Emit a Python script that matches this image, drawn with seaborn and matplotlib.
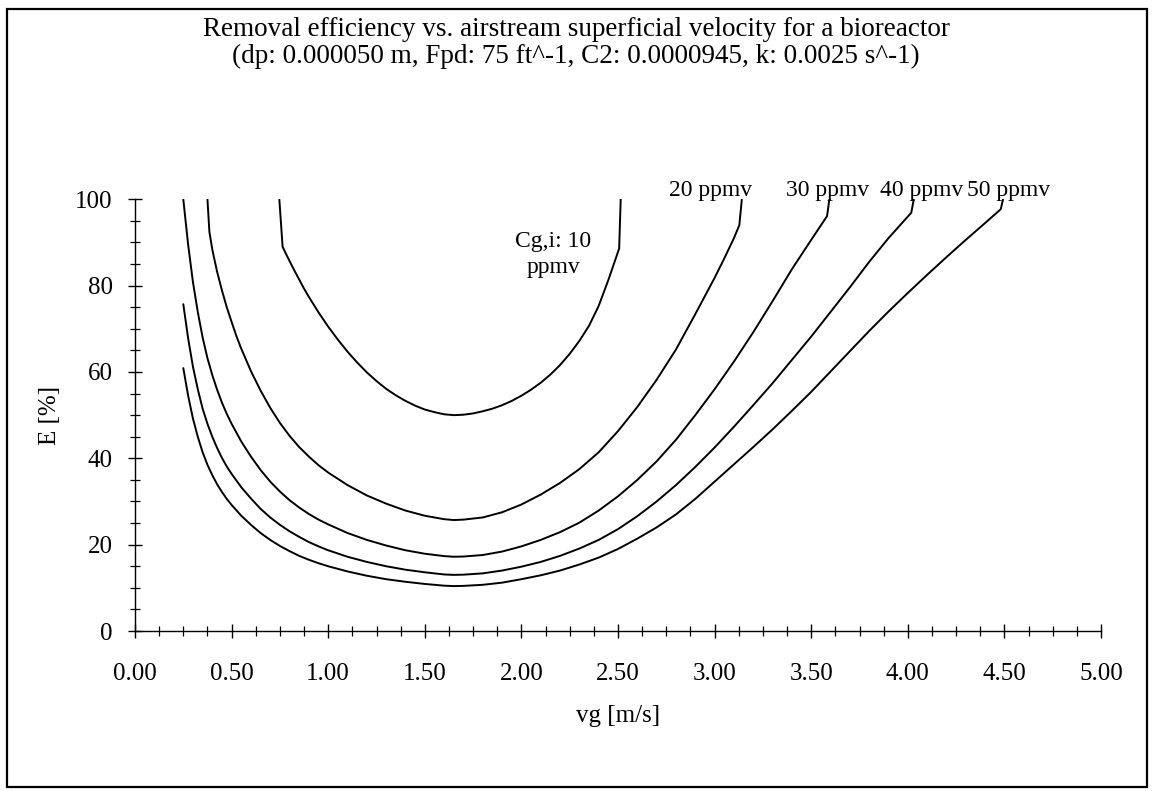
import matplotlib
matplotlib.use("Agg")
import matplotlib.pyplot as plt
import numpy as np
import pandas as pd
import seaborn as sns
from matplotlib.ticker import MultipleLocator, FormatStrFormatter
from matplotlib.patches import Rectangle

# ---------------- data ----------------
labels = ["Cg,i: 10\nppmv", "20 ppmv", "30 ppmv", "40 ppmv", "50 ppmv"]

v_10 = [0.747, 0.764, 0.78, 0.80, 0.825, 0.85, 0.875, 0.90, 0.95, 1.00, 1.05, 1.10, 1.15,
        1.20, 1.25, 1.30, 1.35, 1.40, 1.45, 1.50, 1.55, 1.60, 1.65, 1.70, 1.75, 1.80,
        1.85, 1.90, 1.95, 2.00, 2.05, 2.10, 2.15, 2.20, 2.25, 2.30, 2.35, 2.40, 2.45,
        2.506, 2.514]
E_10 = [100, 89.0, 87.5, 85.7, 83.5, 81.4, 79.3, 77.4, 73.8, 70.5, 67.5, 64.7, 62.2,
        59.9, 57.9, 56.1, 54.6, 53.3, 52.2, 51.3, 50.7, 50.2, 50.0, 50.1, 50.4, 50.9,
        51.5, 52.3, 53.3, 54.5, 55.9, 57.5, 59.4, 61.6, 64.2, 67.2, 70.7, 75.3, 81.3,
        88.6, 100]

v_20 = [0.375, 0.385, 0.40, 0.425, 0.45, 0.475, 0.50, 0.525, 0.55, 0.60, 0.65, 0.70,
        0.75, 0.80, 0.85, 0.90, 0.95, 1.00, 1.10, 1.20, 1.30, 1.40, 1.50, 1.60, 1.65,
        1.70, 1.80, 1.90, 2.00, 2.10, 2.20, 2.30, 2.40, 2.50, 2.60, 2.70, 2.80, 2.90,
        3.00, 3.05, 3.10, 3.128, 3.141]
E_20 = [100, 92.5, 88.4, 83.2, 78.9, 75.0, 71.6, 68.3, 65.4, 60.2, 55.7, 51.7,
        48.2, 45.2, 42.6, 40.4, 38.4, 36.7, 33.8, 31.4, 29.5, 27.9, 26.7, 25.9, 25.7,
        25.8, 26.3, 27.5, 29.3, 31.6, 34.3, 37.5, 41.4, 46.3, 51.9, 58.2, 65.2, 73.4,
        81.8, 86.3, 91.0, 94.0, 100]

v_30 = [0.25, 0.275, 0.30, 0.325, 0.35, 0.375, 0.40, 0.425, 0.45, 0.475, 0.50, 0.55,
        0.60, 0.65, 0.70, 0.75, 0.80, 0.85, 0.90, 0.95, 1.00, 1.10, 1.20, 1.30, 1.40,
        1.50, 1.60, 1.65, 1.70, 1.80, 1.90, 2.00, 2.10, 2.20, 2.30, 2.40, 2.50, 2.60,
        2.70, 2.80, 2.90, 3.00, 3.10, 3.20, 3.30, 3.40, 3.50, 3.582, 3.594]
E_30 = [100, 89.5, 80.8, 73.9, 68.0, 63.2, 59.3, 55.9, 52.9, 50.3, 48.0, 43.9,
        40.4, 37.3, 34.6, 32.3, 30.3, 28.6, 27.1, 25.8, 24.7, 22.7, 21.1, 19.8, 18.7,
        17.9, 17.35, 17.2, 17.25, 17.6, 18.4, 19.6, 21.1, 22.9, 25.1, 27.9, 31.2, 35.0,
        39.3, 44.3, 50.0, 56.0, 62.4, 69.2, 76.4, 83.8, 90.6, 96.1, 100]

v_40 = [0.25, 0.275, 0.30, 0.325, 0.35, 0.375, 0.40, 0.425, 0.45, 0.475, 0.50, 0.55,
        0.60, 0.65, 0.70, 0.75, 0.80, 0.85, 0.90, 0.95, 1.00, 1.10, 1.20, 1.30, 1.40,
        1.50, 1.60, 1.65, 1.70, 1.80, 1.90, 2.00, 2.10, 2.20, 2.30, 2.40, 2.50, 2.60,
        2.70, 2.80, 2.90, 3.00, 3.10, 3.20, 3.30, 3.40, 3.50, 3.60, 3.70, 3.80, 3.90,
        4.00, 4.018, 4.031]
E_40 = [75.7, 67.8, 61.2, 56.0, 51.5, 48.0, 45.0, 42.4, 40.1, 38.1, 36.4, 33.3,
        30.7, 28.3, 26.3, 24.6, 23.1, 21.8, 20.6, 19.6, 18.7, 17.2, 16.0, 15.0, 14.2,
        13.6, 13.1, 13.0, 13.05, 13.35, 14.0, 14.9, 16.0, 17.4, 19.1, 21.1, 23.6, 26.6,
        30.0, 33.8, 38.0, 42.5, 47.3, 52.3, 57.4, 62.8, 68.2, 73.9, 79.6, 85.5, 91.0,
        96.0, 96.9, 100]

v_50 = [0.25, 0.275, 0.30, 0.325, 0.35, 0.375, 0.40, 0.425, 0.45, 0.475, 0.50, 0.55,
        0.60, 0.65, 0.70, 0.75, 0.80, 0.85, 0.90, 0.95, 1.00, 1.10, 1.20, 1.30, 1.40,
        1.50, 1.60, 1.65, 1.70, 1.80, 1.90, 2.00, 2.10, 2.20, 2.30, 2.40, 2.50, 2.60,
        2.70, 2.80, 2.90, 3.00, 3.10, 3.20, 3.30, 3.40, 3.50, 3.60, 3.70, 3.80, 3.90,
        4.00, 4.10, 4.20, 4.30, 4.40, 4.481, 4.493]
E_50 = [60.9, 54.5, 49.2, 45.0, 41.4, 38.5, 36.1, 34.0, 32.2, 30.6, 29.2, 26.7,
        24.6, 22.7, 21.1, 19.7, 18.5, 17.4, 16.5, 15.7, 15.0, 13.8, 12.8, 12.0, 11.4,
        10.9, 10.5, 10.4, 10.45, 10.7, 11.2, 12.0, 12.9, 14.0, 15.4, 17.0, 19.0, 21.4,
        24.0, 27.0, 30.6, 34.6, 38.6, 42.6, 46.7, 51.0, 55.4, 60.1, 64.8, 69.5, 74.0,
        78.3, 82.5, 86.6, 90.6, 94.5, 97.7, 100]

# label anchor positions (data coords)
label_x = [2.164, 2.98, 3.587, 4.07, 4.52]
label_y = [87.3, 100.8, 100.8, 100.8, 100.8]

x_ticklabels = ["0.00", "0.50", "1.00", "1.50", "2.00", "2.50", "3.00", "3.50", "4.00", "4.50", "5.00"]
title = ("Removal efficiency vs. airstream superficial velocity for a bioreactor\n"
         "(dp: 0.000050 m, Fpd: 75 ft^-1, C2: 0.0000945, k: 0.0025 s^-1)")

# ---------------- build long table ----------------
frames = []
for name, vv, ee in zip(labels, [v_10, v_20, v_30, v_40, v_50],
                        [E_10, E_20, E_30, E_40, E_50]):
    frames.append(pd.DataFrame({"vg": vv, "E": ee, "series": name}))
df = pd.concat(frames, ignore_index=True)

# ---------------- style ----------------
sns.set_theme(style="white")
plt.rcParams["font.family"] = ["Liberation Serif", "DejaVu Serif"]
plt.rcParams["text.color"] = "black"
plt.rcParams["axes.labelcolor"] = "black"
plt.rcParams["xtick.color"] = "black"
plt.rcParams["ytick.color"] = "black"

W, H, DPI = 1152, 791, 100
fig = plt.figure(figsize=(W / DPI, H / DPI), dpi=DPI, facecolor="white")
ax = fig.add_axes([135 / W, 1 - 631 / H, (1101 - 135) / W, (631 - 199.3) / H])

sns.lineplot(data=df, x="vg", y="E", units="series", estimator=None, sort=False,
             color="black", linewidth=1.4, ax=ax, legend=False)

ax.set_xlim(0, 5)
ax.set_ylim(0, 100)
ax.set_facecolor("white")
for s in ["top", "right"]:
    ax.spines[s].set_visible(False)
for s in ["left", "bottom"]:
    ax.spines[s].set_color("black")
    ax.spines[s].set_linewidth(1.0)

ax.xaxis.set_minor_locator(MultipleLocator(0.125))
ax.set_xticks(np.arange(0, 5.01, 0.5))
ax.set_xticklabels(x_ticklabels)
ax.yaxis.set_major_locator(MultipleLocator(20))
ax.yaxis.set_minor_locator(MultipleLocator(5))
ax.yaxis.set_major_formatter(FormatStrFormatter("%d"))

ax.tick_params(axis="x", which="major", direction="inout", length=10, width=1.0,
               pad=18, labelsize=18, bottom=True)
ax.tick_params(axis="x", which="minor", direction="inout", length=7, width=0.9, bottom=True)
ax.tick_params(axis="y", which="major", direction="inout", length=10, width=1.0,
               pad=11, labelsize=18, left=True)
ax.tick_params(axis="y", which="minor", direction="inout", length=7, width=0.9, left=True)

ax.set_xlabel("vg [m/s]", fontsize=18, va="center")
ax.xaxis.set_label_coords(0.5, -(716 - 631) / (631 - 199.3))
ax.set_ylabel("E [%]", fontsize=18, va="center")
ax.yaxis.set_label_coords(-(135 - 50) / (1101 - 135), 0.5)

for name, lx, ly in zip(labels, label_x, label_y):
    multi = "\n" in name
    ax.text(lx, ly, name, ha="center", va="center" if multi else "baseline",
            fontsize=17, clip_on=False, linespacing=1.3 if multi else 1.0)

fig.text(0.5, 1 - 17 / H, title, ha="center", va="top", fontsize=19.5, linespacing=1.1)

fig.patches.append(Rectangle((7 / W, 1 - 787 / H), (1147 - 7) / W, (787 - 9) / H,
                             transform=fig.transFigure, fill=False,
                             edgecolor="black", linewidth=1.6))

fig.savefig("out.png", dpi=DPI, facecolor="white")
